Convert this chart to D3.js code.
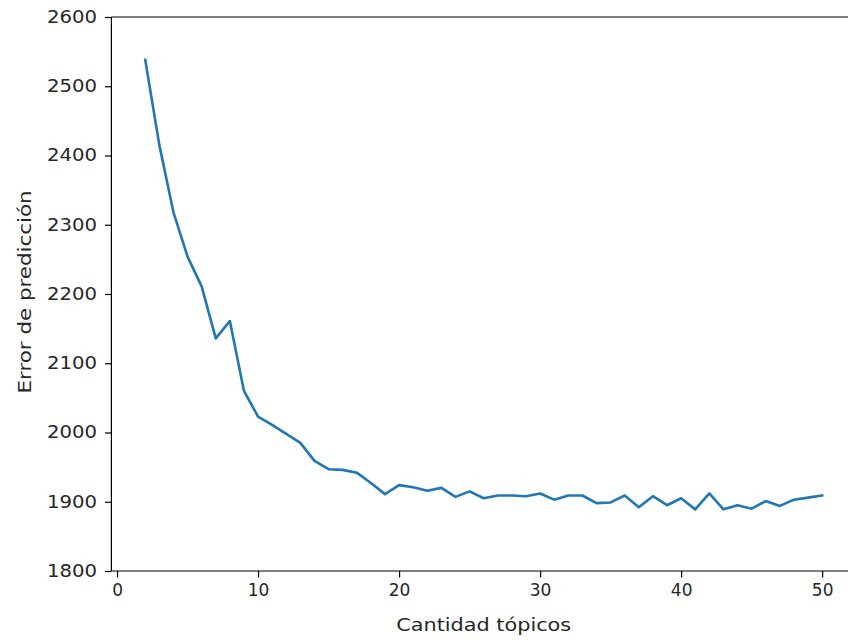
<!DOCTYPE html>
<html>
<head>
<meta charset="utf-8">
<script src="https://cdn.jsdelivr.net/npm/d3@7"></script>
<style>
  html, body { margin: 0; padding: 0; background: #fff; }
  svg { display: block; }
  text { font-family: "DejaVu Sans", sans-serif; fill: #262626; }
</style>
</head>
<body>
<svg id="chart" width="848" height="641"></svg>
<script>
// Number of topics evaluated
const topics = d3.range(2, 51);
// Prediction error for each topic count
const errors = [
  2538, 2415, 2318, 2254, 2211, 2136, 2161, 2060, 2023, 2011,
  1998, 1985, 1959, 1947, 1946, 1942, 1927, 1911, 1924, 1921,
  1916, 1920, 1907, 1915, 1905, 1909, 1909, 1908, 1912, 1903,
  1909, 1909, 1898, 1899, 1909, 1892, 1908, 1895, 1905, 1889,
  1912, 1889, 1895, 1890, 1901, 1894, 1903, 1906, 1909
];
const xTicks = [0, 10, 20, 30, 40, 50];
const yTicks = [1800, 1900, 2000, 2100, 2200, 2300, 2400, 2500, 2600];
const xTitle = "Cantidad tópicos";
const yTitle = "Error de predicción";

const svg = d3.select("#chart");
const plotLeft = 111.4, plotRight = 856, plotTop = 17, plotBottom = 571;

const x = d3.scaleLinear().domain([-0.4, 52.4]).range([plotLeft, plotRight]);
const y = d3.scaleLinear().domain([1800, 2600]).range([plotBottom, plotTop]);

// Line
const line = d3.line().x((d, i) => x(topics[i])).y(d => y(d));
svg.append("path")
  .datum(errors)
  .attr("d", line)
  .attr("fill", "none")
  .attr("stroke", "#1f77b4")
  .attr("stroke-width", 2.6)
  .attr("stroke-linejoin", "round")
  .attr("stroke-linecap", "square");

// Frame
const frame = svg.append("g").attr("stroke", "#000").attr("stroke-width", 1.2);
frame.append("line").attr("x1", plotLeft).attr("x2", plotRight).attr("y1", plotTop).attr("y2", plotTop);
frame.append("line").attr("x1", plotLeft).attr("x2", plotRight).attr("y1", plotBottom).attr("y2", plotBottom);
frame.append("line").attr("x1", plotLeft).attr("x2", plotLeft).attr("y1", plotTop).attr("y2", plotBottom);
frame.append("line").attr("x1", plotRight).attr("x2", plotRight).attr("y1", plotTop).attr("y2", plotBottom);

// Axes
const xAxis = d3.axisBottom(x).tickValues(xTicks).tickSize(6.5).tickPadding(6).tickFormat(d3.format("d"));
const gx = svg.append("g").attr("transform", `translate(0,${plotBottom})`).call(xAxis);
gx.select(".domain").remove();
gx.selectAll(".tick line").attr("stroke", "#000").attr("stroke-width", 1.2);
gx.selectAll(".tick text").attr("font-size", 17).attr("fill", "#262626")
  .attr("font-family", "DejaVu Sans, sans-serif");

const yAxis = d3.axisLeft(y).tickValues(yTicks).tickSize(6.5).tickPadding(8).tickFormat(d3.format("d"));
const gy = svg.append("g").attr("transform", `translate(${plotLeft},0)`).call(yAxis);
gy.select(".domain").remove();
gy.selectAll(".tick line").attr("stroke", "#000").attr("stroke-width", 1.2);
gy.selectAll(".tick text").attr("font-size", 17).attr("fill", "#262626")
  .attr("font-family", "DejaVu Sans, sans-serif")
  .attr("textLength", 50).attr("lengthAdjust", "spacingAndGlyphs");

// Axis titles
svg.append("text")
  .attr("x", (plotLeft + plotRight) / 2)
  .attr("y", 631)
  .attr("text-anchor", "middle")
  .attr("font-size", 18)
  .attr("textLength", 175).attr("lengthAdjust", "spacingAndGlyphs")
  .text(xTitle);

svg.append("text")
  .attr("transform", `translate(31,${(plotTop + plotBottom) / 2 - 2}) rotate(-90)`)
  .attr("text-anchor", "middle")
  .attr("font-size", 17)
  .attr("textLength", 203).attr("lengthAdjust", "spacingAndGlyphs")
  .text(yTitle);
</script>
</body>
</html>
